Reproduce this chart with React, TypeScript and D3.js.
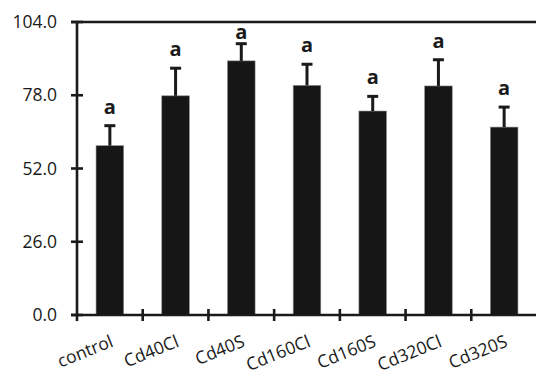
import React, { useRef, useEffect } from "react";
import * as d3 from "d3";

const categories = ["control", "Cd40Cl", "Cd40S", "Cd160Cl", "Cd160S", "Cd320Cl", "Cd320S"];
const means = [60.1, 77.8, 90.2, 81.5, 72.4, 81.3, 66.7];
const errors = [7.1, 9.8, 6.1, 7.5, 5.2, 9.3, 7.1];
const letters = ["a", "a", "a", "a", "a", "a", "a"];
const yTicks = [0, 26, 52, 78, 104];

const App = () => {
	const chartRef = useRef<SVGSVGElement>(null);

	useEffect(() => {
		const width = 536;
		const height = 370;
		const margin = { top: 22, right: -1, bottom: 55, left: 77 };
		const font = "'Open Sans', 'Noto Sans', sans-serif";

		const svg = d3.select(chartRef.current);
		svg.selectAll("*").remove();

		const data = categories.map((c, i) => ({ category: c, mean: means[i], err: errors[i], letter: letters[i] }));

		const x = d3
			.scaleBand()
			.domain(categories)
			.range([margin.left, width - margin.right])
			.paddingInner(0.58)
			.paddingOuter(0.29);

		const y = d3
			.scaleLinear()
			.domain([0, 104])
			.range([height - margin.bottom, margin.top]);

		const ink = "#1a1a1a";

		// bars
		svg
			.selectAll(".bar")
			.data(data)
			.enter()
			.append("rect")
			.attr("class", "bar")
			.attr("x", d => x(d.category)!)
			.attr("y", d => y(d.mean))
			.attr("width", x.bandwidth())
			.attr("height", d => y(0) - y(d.mean))
			.attr("fill", "#161616")
			.attr("stroke", "#8a8a8a")
			.attr("stroke-width", 0.6);

		// upper error bars
		const capW = 11;
		const eb = svg.selectAll(".err").data(data).enter().append("g").attr("class", "err");
		eb.append("line")
			.attr("x1", d => x(d.category)! + x.bandwidth() / 2)
			.attr("x2", d => x(d.category)! + x.bandwidth() / 2)
			.attr("y1", d => y(d.mean))
			.attr("y2", d => y(d.mean + d.err))
			.attr("stroke", ink)
			.attr("stroke-width", 3);
		eb.append("line")
			.attr("x1", d => x(d.category)! + x.bandwidth() / 2 - capW / 2)
			.attr("x2", d => x(d.category)! + x.bandwidth() / 2 + capW / 2)
			.attr("y1", d => y(d.mean + d.err))
			.attr("y2", d => y(d.mean + d.err))
			.attr("stroke", ink)
			.attr("stroke-width", 3);

		// significance letters
		svg
			.selectAll(".letter")
			.data(data)
			.enter()
			.append("text")
			.attr("class", "letter")
			.attr("x", d => x(d.category)! + x.bandwidth() / 2)
			.attr("y", d => Math.max(y(d.mean + d.err) - 12, y(104) + 17))
			.attr("text-anchor", "middle")
			.attr("font-family", font)
			.attr("font-weight", "bold")
			.attr("font-size", 20)
			.attr("fill", ink)
			.text(d => d.letter);

		// top border
		svg
			.append("line")
			.attr("x1", margin.left - 6)
			.attr("x2", width)
			.attr("y1", y(104))
			.attr("y2", y(104))
			.attr("stroke", ink)
			.attr("stroke-width", 2.6);

		// y axis
		const yAxis = svg
			.append("g")
			.attr("transform", `translate(${margin.left},0)`)
			.call(d3.axisLeft(y).tickValues(yTicks).tickFormat(d3.format(".1f")).tickSize(0).tickPadding(20));
		yAxis.select(".domain").remove();
		yAxis.selectAll("text")
			.attr("font-family", font)
			.attr("font-size", 17.5)
			.attr("fill", ink);

		svg
			.append("line")
			.attr("x1", margin.left)
			.attr("x2", margin.left)
			.attr("y1", y(104))
			.attr("y2", y(0) + 6)
			.attr("stroke", ink)
			.attr("stroke-width", 2.6);

		svg
			.selectAll(".ytick")
			.data(yTicks)
			.enter()
			.append("line")
			.attr("class", "ytick")
			.attr("x1", margin.left - 6)
			.attr("x2", margin.left + 6)
			.attr("y1", d => y(d))
			.attr("y2", d => y(d))
			.attr("stroke", ink)
			.attr("stroke-width", 2.6);

		// x axis
		svg
			.append("line")
			.attr("x1", margin.left - 6)
			.attr("x2", width)
			.attr("y1", y(0))
			.attr("y2", y(0))
			.attr("stroke", ink)
			.attr("stroke-width", 2.6);

		const step = x.step();
		const boundaries = categories.slice(1).map(c => x(c)! - step * x.paddingInner() / 2);
		svg
			.selectAll(".xtick")
			.data(boundaries)
			.enter()
			.append("line")
			.attr("class", "xtick")
			.attr("x1", d => d)
			.attr("x2", d => d)
			.attr("y1", y(0) - 6)
			.attr("y2", y(0) + 6)
			.attr("stroke", ink)
			.attr("stroke-width", 2.6);

		svg
			.selectAll(".xlabel")
			.data(categories)
			.enter()
			.append("text")
			.attr("class", "xlabel")
			.attr("transform", d => `translate(${x(d)! + x.bandwidth() / 2 + 4.5},${y(0) + 31}) rotate(-22)`)
			.attr("text-anchor", "end")
			.attr("font-family", font)
			.attr("font-size", 17.5)
			.attr("fill", ink)
			.text(d => d);
	}, []);

	return (
		<div style={{ position: "absolute", left: 0, top: 0 }}>
			<svg ref={chartRef} width={536} height={370} style={{ display: "block", background: "#fff" }}></svg>
		</div>
	);
};

export default App;
